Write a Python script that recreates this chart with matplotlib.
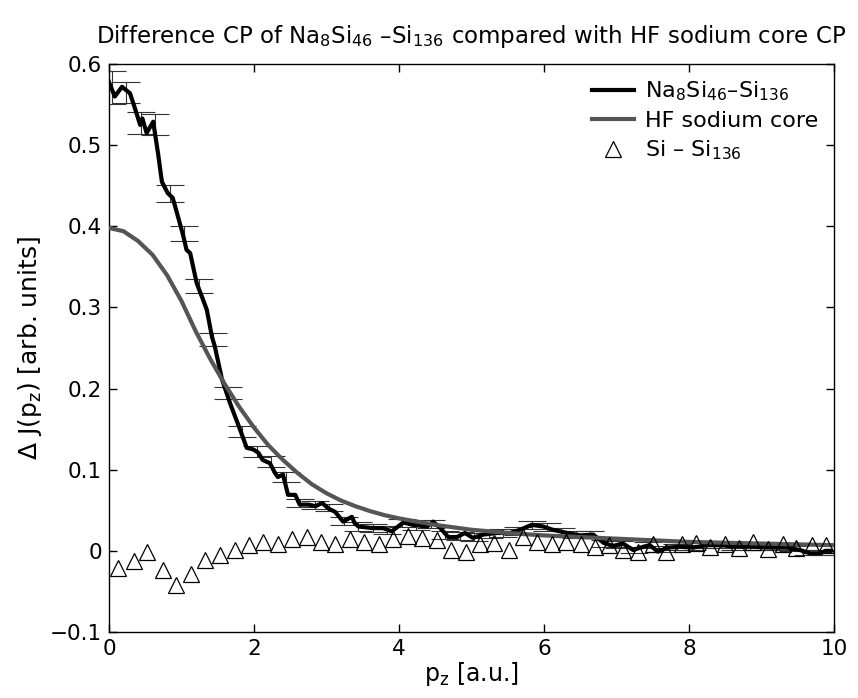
import numpy as np
import matplotlib
matplotlib.use("Agg")
import matplotlib.pyplot as plt

plt.rcParams['font.family'] = ['DejaVu Sans']
plt.rcParams['mathtext.fontset'] = 'dejavusans'
plt.rcParams['mathtext.default'] = 'regular'

# Na8Si46 - Si136 difference profile (black)
na_x = [0.00, 0.08, 0.18, 0.29, 0.36, 0.43, 0.46, 0.52, 0.61, 0.68, 0.73, 0.81, 0.88,
        1.02, 1.07, 1.12, 1.21, 1.30, 1.35, 1.42, 1.46, 1.56, 1.67, 1.81, 1.90, 1.99,
        2.06, 2.12, 2.22, 2.29, 2.33, 2.40, 2.47, 2.57, 2.63, 2.75, 2.85, 2.94, 3.03,
        3.12, 3.23, 3.35, 3.39, 3.44, 3.64, 3.78, 3.90, 4.06, 4.19, 4.39, 4.47, 4.57,
        4.68, 4.80, 4.91, 5.02, 5.16, 5.35, 5.53, 5.67, 5.83, 5.99, 6.12, 6.32, 6.50,
        6.68, 6.82, 6.95, 7.09, 7.23, 7.37, 7.46, 7.57, 7.71, 7.88, 8.06, 8.25, 8.43,
        8.66, 8.88, 9.12, 9.35, 9.53, 9.67, 9.81, 9.88, 9.95]
na_y = [0.578, 0.560, 0.572, 0.564, 0.545, 0.525, 0.533, 0.515, 0.529, 0.488, 0.455, 0.441, 0.435,
        0.390, 0.371, 0.367, 0.330, 0.309, 0.297, 0.264, 0.252, 0.211, 0.182, 0.149, 0.127, 0.125,
        0.121, 0.112, 0.108, 0.096, 0.091, 0.094, 0.069, 0.069, 0.057, 0.057, 0.055, 0.059, 0.052,
        0.048, 0.036, 0.042, 0.034, 0.030, 0.028, 0.028, 0.024, 0.035, 0.032, 0.030, 0.036, 0.028,
        0.017, 0.017, 0.022, 0.016, 0.020, 0.022, 0.022, 0.026, 0.032, 0.030, 0.026, 0.022, 0.019,
        0.020, 0.010, 0.006, 0.009, 0.001, 0.005, 0.007, -0.001, 0.004, 0.005, 0.004, 0.007, 0.007,
        0.005, 0.005, 0.004, 0.004, 0.001, -0.003, -0.003, 0.000, 0.000]

# error bars on the difference profile
err_x = [0.04, 0.24, 0.44, 0.64, 0.84, 1.04, 1.24, 1.44, 1.64, 1.84, 2.04, 2.24, 2.44, 2.64,
         2.84, 3.04, 3.24, 3.44, 3.64, 3.84, 4.04, 4.24, 4.44, 4.64, 4.84, 5.04, 5.24, 5.44,
         5.64, 5.84, 6.04, 6.24, 6.44, 6.64, 6.84, 7.04, 7.24, 7.44, 7.64, 7.84, 8.04, 8.24,
         8.44, 8.64, 8.84, 9.04, 9.24, 9.44, 9.64, 9.84]
err_y = [0.571, 0.565, 0.527, 0.525, 0.441, 0.391, 0.327, 0.261, 0.195, 0.147, 0.123, 0.110,
         0.091, 0.059, 0.057, 0.053, 0.037, 0.030, 0.028, 0.026, 0.034, 0.031, 0.033, 0.020,
         0.018, 0.017, 0.021, 0.022, 0.025, 0.032, 0.029, 0.024, 0.020, 0.020, 0.009, 0.008,
         0.001, 0.007, 0.002, 0.005, 0.004, 0.007, 0.007, 0.005, 0.005, 0.004, 0.004, 0.003,
         -0.002, -0.002]
err_e = [0.020, 0.0135, 0.0136, 0.013, 0.0105, 0.0093, 0.0086, 0.008, 0.0074, 0.0072, 0.0068,
         0.0068, 0.006, 0.0055, 0.005, 0.0045, 0.005, 0.005, 0.005, 0.005, 0.005, 0.005, 0.005,
         0.005, 0.005, 0.005, 0.005, 0.005, 0.005, 0.005, 0.005, 0.0045, 0.0045, 0.0045, 0.004,
         0.004, 0.004, 0.004, 0.004, 0.004, 0.0035, 0.0035, 0.0035, 0.0035, 0.0035, 0.0035,
         0.0035, 0.0035, 0.0035, 0.0035]

# HF sodium core profile (gray)
hf_x = [0.0, 0.2, 0.4, 0.6, 0.8, 1.0, 1.2, 1.4, 1.6, 1.8, 2.0, 2.2, 2.4, 2.6, 2.8, 3.0,
        3.2, 3.4, 3.6, 3.8, 4.0, 4.5, 5.0, 5.5, 6.0, 6.5, 7.0, 7.5, 8.0, 8.5, 9.0, 9.5, 10.0]
hf_y = [0.398, 0.394, 0.382, 0.365, 0.340, 0.308, 0.270, 0.236, 0.205, 0.177, 0.152, 0.130,
        0.112, 0.096, 0.082, 0.071, 0.062, 0.055, 0.049, 0.044, 0.040, 0.032, 0.026, 0.022,
        0.019, 0.017, 0.015, 0.013, 0.011, 0.010, 0.009, 0.008, 0.007]

# Si - Si136 (triangles)
si_x = [0.13, 0.34, 0.53, 0.74, 0.93, 1.13, 1.32, 1.53, 1.74, 1.93, 2.13, 2.33, 2.52, 2.73,
        2.92, 3.12, 3.32, 3.52, 3.72, 3.92, 4.12, 4.32, 4.52, 4.72, 4.92, 5.12, 5.31, 5.52,
        5.71, 5.91, 6.11, 6.31, 6.51, 6.70, 6.90, 7.09, 7.30, 7.50, 7.69, 7.90, 8.10, 8.29,
        8.50, 8.69, 8.89, 9.09, 9.29, 9.48, 9.69, 9.89]
si_y = [-0.021, -0.013, -0.001, -0.023, -0.042, -0.028, -0.011, -0.005, 0.001, 0.007, 0.011,
        0.009, 0.015, 0.017, 0.011, 0.009, 0.014, 0.011, 0.009, 0.014, 0.018, 0.016, 0.013,
        0.001, -0.001, 0.008, 0.010, 0.001, 0.017, 0.011, 0.008, 0.011, 0.008, 0.005, 0.007,
        0.001, -0.001, 0.009, -0.001, 0.009, 0.010, 0.005, 0.009, 0.003, 0.011, 0.002, 0.009,
        0.003, 0.007, 0.007]

fig = plt.figure(figsize=(8.58, 6.98), dpi=100)
ax = fig.add_axes([0.127, 0.0946, 0.845, 0.8136])

ax.errorbar(err_x, err_y, yerr=err_e, fmt='none', ecolor='#333333', elinewidth=0.8,
            capsize=10, capthick=0.8, zorder=2)
ax.plot(na_x, na_y, color='black', lw=3, zorder=3,
        label=r'Na$_8$Si$_{46}$–Si$_{136}$')
ax.plot(hf_x, hf_y, color='#555555', lw=3, zorder=3, label='HF sodium core')
ax.plot(si_x, si_y, ls='none', marker='^', ms=11, mfc='none', mec='black', mew=0.9,
        zorder=4, label=r'Si – Si$_{136}$')

ax.set_xlim(0, 10)
ax.set_ylim(-0.1, 0.6)
ax.set_xticks([0, 2, 4, 6, 8, 10])
ax.set_yticks([-0.1, 0, 0.1, 0.2, 0.3, 0.4, 0.5, 0.6])
ax.set_yticklabels(['−0.1', '0', '0.1', '0.2', '0.3', '0.4', '0.5', '0.6'])
ax.tick_params(direction='in', length=6, width=1, labelsize=15.5, top=True, right=True, pad=5)
for s in ax.spines.values():
    s.set_linewidth(1.0)

ax.set_xlabel(r'p$_z$ [a.u.]', fontsize=17, labelpad=1)
ax.set_ylabel(r'Δ J(p$_z$) [arb. units]', fontsize=18, labelpad=4)
ax.set_title(r'Difference CP of Na$_8$Si$_{46}$ –Si$_{136}$ compared with HF sodium core CP',
             fontsize=16.5, pad=15)

leg = ax.legend(loc='upper right', frameon=False, fontsize=16, handlelength=1.9,
                borderaxespad=0.3, labelspacing=0.35, handletextpad=0.5)

fig.savefig('out.png', dpi=100)
